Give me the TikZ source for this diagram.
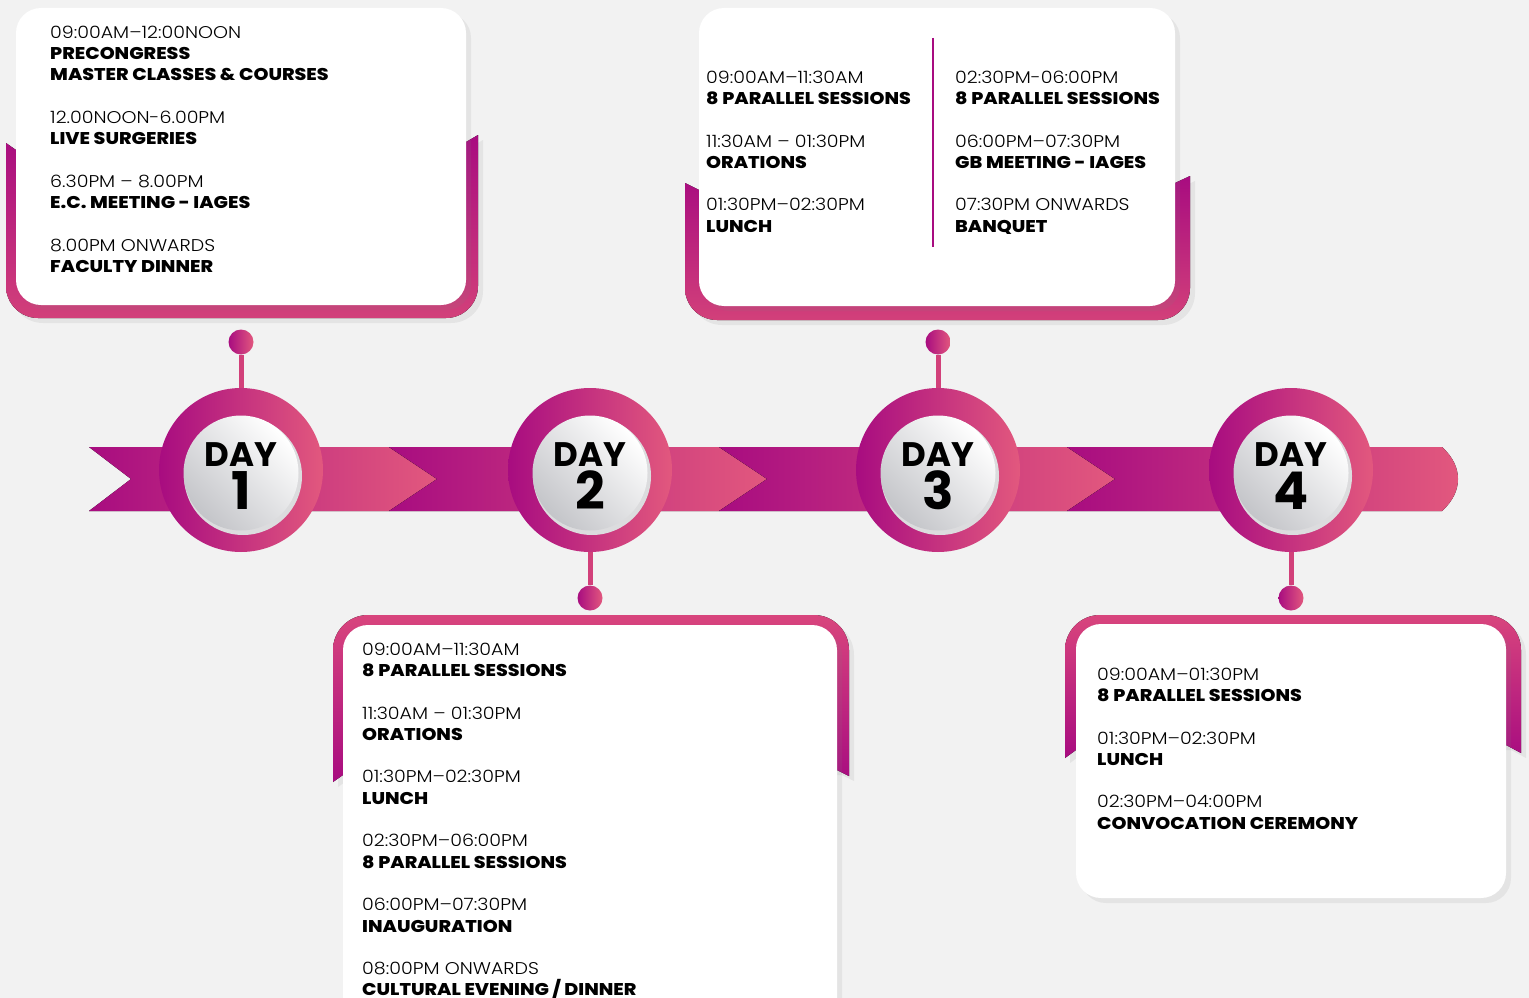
\documentclass[tikz,border=0pt]{standalone}
\usepackage{fontspec}
\setmainfont{Poppins}
\newfontfamily\lightfont{Poppins Light}[FakeStretch=1.12]
\newfontfamily\heavyfont{Poppins ExtraBold}[FakeStretch=1.12]
\usetikzlibrary{shadows}
\definecolor{magdark}{HTML}{A80C80}
\definecolor{magpink}{HTML}{E2587E}
\definecolor{magred}{HTML}{D2407A}
\definecolor{magtop}{HTML}{D8457D}
\definecolor{bggray}{HTML}{F2F2F2}
\definecolor{facegray}{HTML}{C4C5C9}
\definecolor{facerim}{HTML}{DCDCDE}

\tikzset{
  band/.style={left color=magdark, right color=magpink},
  ring/.style={circle, inner sep=0pt, minimum size=164pt, left color=magdark, right color=magpink},
  face/.style={circle, inner sep=0pt, minimum size=115pt, top color=white, bottom color=facegray, shading angle=-45},
  pindot/.style={circle, inner sep=0pt, minimum size=25pt, left color=magdark, right color=magpink},
  stem/.style={magred, line width=5pt},
  card/.style={white, rounded corners=25pt, drop shadow={opacity=0.12, shadow xshift=5pt, shadow yshift=-5pt}},
  cardtext/.style={anchor=north west, inner sep=0pt, align=left, font=\fontsize{17}{21.3}\selectfont},
  daylbl/.style={anchor=base, inner sep=0pt, font=\fontsize{34}{34}\selectfont\bfseries},
  daynum/.style={anchor=base, inner sep=0pt, font=\fontsize{52}{52}\selectfont\bfseries},
}
\newcommand{\tm}[1]{{\lightfont #1}}
\newcommand{\bd}[1]{{\heavyfont #1}}

\begin{document}
\begin{tikzpicture}[x=1pt, y=-1pt]
  \useasboundingbox (0,0) rectangle (1529,998);
  \fill[bggray] (0,0) rectangle (1529,998);

  % ribbon
  \fill[band] (89,447) -- (389,447) -- (437,479) -- (389,511) -- (89,511) -- (131,479) -- cycle;
  \foreach \a/\b in {389/719, 719/1067}
    \fill[band] (\a,447) -- (\b,447) -- (\b+48,479) -- (\b,511) -- (\a,511) -- (\a+48,479) -- cycle;
  \fill[band] (1067,447) -- (1442,447) .. controls (1453,457) and (1458,468) .. (1458,479)
    .. controls (1458,490) and (1453,501) .. (1442,511) -- (1067,511) -- (1115,479) -- cycle;

  % days
  \foreach \x/\n in {241/1, 590/2, 938/3, 1291/4} {
    \node[ring]                                          (ring\n) at (\x,470)   {};
    \node[circle, fill=facerim, minimum size=118pt]      (rim\n)  at (\x+2,476) {};
    \node[face]                                          (face\n) at (\x,473)   {};
    \node[daylbl]                                        (lbl\n)  at (\x,466)   {DAY};
    \node[daynum]                                        (num\n)  at (\x,509)   {\n};
  }

  % pins
  \foreach \x/\y/\n in {241/342/1, 590/598/2, 938/342/3, 1291/598/4} {
    \node[pindot] (dot\n) at (\x,\y) {};
    \draw[stem] (dot\n) -- (ring\n);
  }

  % cards, day 1 and day 3 above
  \fill[top color=magdark, bottom color=magred, drop shadow={opacity=0.12, shadow xshift=5pt, shadow yshift=-5pt}]
    (6,143) -- (16,150) -- (466,142) -- (478,135) -- (478,286)
    .. controls (478,303.7) and (463.7,318) .. (446,318) -- (38,318)
    .. controls (20.3,318) and (6,303.7) .. (6,286) -- cycle;
  \fill[card] (16,8) rectangle (466,305);

  \fill[top color=magdark, bottom color=magred, drop shadow={opacity=0.12, shadow xshift=5pt, shadow yshift=-5pt}]
    (685,183) -- (699,190) -- (1175,183) -- (1190,176) -- (1190,288)
    .. controls (1190,305.7) and (1175.7,320) .. (1158,320) -- (717,320)
    .. controls (699.3,320) and (685,305.7) .. (685,288) -- cycle;
  \fill[card] (699,8) rectangle (1175,306);
  \draw[magdark, line width=1.5pt] (933,38) -- (933,247);

  % cards, day 2 and day 4 below
  \fill[top color=magtop, bottom color=magdark, drop shadow={opacity=0.12, shadow xshift=5pt, shadow yshift=-5pt}]
    (333,782) -- (333,650) .. controls (333,630.7) and (348.7,615) .. (368,615) -- (814,615)
    .. controls (833.3,615) and (849,630.7) .. (849,650) -- (849,776) -- (837,770) -- (343,775) -- cycle;
  \fill[card] (343,625) rectangle (837,1040);

  \fill[top color=magtop, bottom color=magdark, drop shadow={opacity=0.12, shadow xshift=5pt, shadow yshift=-5pt}]
    (1065,758) -- (1065,650) .. controls (1065,630.7) and (1080.7,615) .. (1100,615) -- (1486,615)
    .. controls (1505.3,615) and (1521,630.7) .. (1521,650) -- (1521,753) -- (1506,745) -- (1076,750) -- cycle;
  \fill[card] (1076,624) rectangle (1506,898);

  % texts
  \node[cardtext] (text1) at (50,25.5) {\tm{09:00AM–12:00NOON}\\\bd{PRECONGRESS}\\\bd{MASTER CLASSES \& COURSES}\\[21.3pt]
    \tm{12.00NOON-6.00PM}\\\bd{LIVE SURGERIES}\\[21.3pt]
    \tm{6.30PM – 8.00PM}\\\bd{E.C. MEETING - IAGES}\\[21.3pt]
    \tm{8.00PM ONWARDS}\\\bd{FACULTY DINNER}};
  \node[cardtext] (text2) at (362,642.5) {\tm{09:00AM–11:30AM}\\\bd{8 PARALLEL SESSIONS}\\[21.3pt]
    \tm{11:30AM – 01:30PM}\\\bd{ORATIONS}\\[21.3pt]
    \tm{01:30PM–02:30PM}\\\bd{LUNCH}\\[21.3pt]
    \tm{02:30PM–06:00PM}\\\bd{8 PARALLEL SESSIONS}\\[21.3pt]
    \tm{06:00PM–07:30PM}\\\bd{INAUGURATION}\\[21.3pt]
    \tm{08:00PM ONWARDS}\\\bd{CULTURAL EVENING / DINNER}};
  \node[cardtext] (text3a) at (706,70.5) {\tm{09:00AM–11:30AM}\\\bd{8 PARALLEL SESSIONS}\\[21.3pt]
    \tm{11:30AM – 01:30PM}\\\bd{ORATIONS}\\[21.3pt]
    \tm{01:30PM–02:30PM}\\\bd{LUNCH}};
  \node[cardtext] (text3b) at (955,70.5) {\tm{02:30PM-06:00PM}\\\bd{8 PARALLEL SESSIONS}\\[21.3pt]
    \tm{06:00PM–07:30PM}\\\bd{GB MEETING - IAGES}\\[21.3pt]
    \tm{07:30PM ONWARDS}\\\bd{BANQUET}};
  \node[cardtext] (text4) at (1097,667.5) {\tm{09:00AM–01:30PM}\\\bd{8 PARALLEL SESSIONS}\\[21.3pt]
    \tm{01:30PM–02:30PM}\\\bd{LUNCH}\\[21.3pt]
    \tm{02:30PM–04:00PM}\\\bd{CONVOCATION CEREMONY}};
\end{tikzpicture}
\end{document}
